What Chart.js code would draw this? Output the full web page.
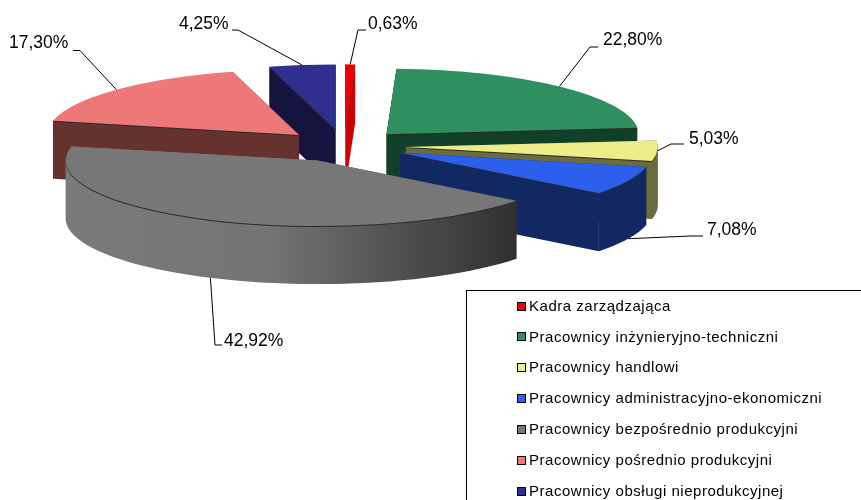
<!DOCTYPE html>
<html>
<head>
<meta charset="utf-8">
<style>
  html, body { margin: 0; padding: 0; background: #fff; }
  canvas { display: block; }
</style>
<script src="https://cdn.jsdelivr.net/npm/chart.js@4"></script>
</head>
<body>
<canvas id="chart" width="861" height="500"></canvas>
<script>
const categories = [
  "Kadra zarządzająca",
  "Pracownicy inżynieryjno-techniczni",
  "Pracownicy handlowi",
  "Pracownicy administracyjno-ekonomiczni",
  "Pracownicy bezpośrednio produkcyjni",
  "Pracownicy pośrednio produkcyjni",
  "Pracownicy obsługi nieprodukcyjnej"
];
const shares = [0.63, 22.80, 5.03, 7.08, 42.92, 17.30, 4.25];

const topColors = ["#ee0000", "#2f8f5f", "#ecec88", "#2b5fec", "#777777", "#ee7777", "#2f2f8f"];
const wallColors = ["#cc0000", "#123f28", "#6b6b3e", "#122863", null, "#663230", "#14143f"];
const grayWallStops = [[0, "#7a7a7a"], [0.45, "#747474"], [1, "#2f2f2f"]];

// back to front
const paintOrder = [0, 6, 1, 5, 2, 3, 4];

const center = { x: 344, y: 146 };
const radius = 252;
const squash = 0.26;
const explode = 62;
const depth = 58;

// label text position, then leader start and elbow, then whether it lands on the wall
const labelSpots = [
  { x: 368, y: 24, start: [366, 30], elbow: [358, 30], wall: false },
  { x: 603, y: 40, start: [598, 47], elbow: [590, 47], wall: false },
  { x: 689, y: 139, start: [684, 144], elbow: [671, 144], wall: false },
  { x: 707, y: 230, start: [703, 236], elbow: [690, 236], wall: true },
  { x: 224, y: 341, start: [222, 345], elbow: [215, 345], wall: true },
  { x: 9, y: 43, start: [73, 50.5], elbow: [80, 50.5], wall: false },
  { x: 179, y: 24, start: [232, 30], elbow: [238, 30], wall: false }
];

const legendBox = { x: 466.5, y: 290.5, w: 500, h: 300 };
const legendRows = { swatchX: 517.5, textX: 529, firstY: 305.5, step: 30.9, swatch: 8 };

const sliceOrigin = (arc) => {
  const mid = (arc.startAngle + arc.endAngle) / 2;
  return {
    x: center.x + Math.cos(mid) * explode,
    y: center.y + Math.sin(mid) * explode * squash,
    mid: mid
  };
};

const rimPoint = (o, angle) => ({
  x: o.x + Math.cos(angle) * radius,
  y: o.y + Math.sin(angle) * radius * squash
});

// the side walls of one slice: both cut faces and the front part of the rim
const drawWalls = (ctx, arc, fill) => {
  const o = sliceOrigin(arc);
  ctx.fillStyle = fill;
  [arc.startAngle, arc.endAngle].forEach((a) => {
    const p = rimPoint(o, a);
    ctx.beginPath();
    ctx.moveTo(o.x, o.y);
    ctx.lineTo(p.x, p.y);
    ctx.lineTo(p.x, p.y + depth);
    ctx.lineTo(o.x, o.y + depth);
    ctx.closePath();
    ctx.fill();
  });
  const from = Math.max(arc.startAngle, 0);
  const to = Math.min(arc.endAngle, Math.PI);
  if (to <= from) return;
  const steps = 48;
  ctx.beginPath();
  for (let s = 0; s <= steps; s++) {
    const p = rimPoint(o, from + (to - from) * s / steps);
    if (s === 0) ctx.moveTo(p.x, p.y);
    else ctx.lineTo(p.x, p.y);
  }
  for (let s = steps; s >= 0; s--) {
    const p = rimPoint(o, from + (to - from) * s / steps);
    ctx.lineTo(p.x, p.y + depth);
  }
  ctx.closePath();
  ctx.fill();
};

// top face: the library's own arc, squashed and moved out from the centre
const drawFace = (ctx, arc, color, dy) => {
  const o = sliceOrigin(arc);
  const saved = arc.options;
  ctx.save();
  ctx.translate(o.x, o.y + dy);
  ctx.scale(1, squash);
  ctx.translate(-arc.x, -arc.y);
  arc.options = Object.assign({}, saved, { backgroundColor: color });
  arc.draw(ctx);
  arc.options = saved;
  ctx.restore();
};

const pie3d = {
  id: "pie3d",
  beforeDatasetsDraw(chart) {
    const ctx = chart.ctx;
    const arcs = chart.getDatasetMeta(0).data;
    paintOrder.forEach((i) => {
      const arc = arcs[i];
      let wall = wallColors[i];
      if (!wall) {
        const o = sliceOrigin(arc);
        wall = ctx.createLinearGradient(o.x - radius, 0, o.x + radius * 0.8, 0);
        grayWallStops.forEach((s) => wall.addColorStop(s[0], s[1]));
      }
      drawWalls(ctx, arc, wall);
      drawFace(ctx, arc, "#2a2a2a", 1);
      drawFace(ctx, arc, topColors[i], 0);
    });
    return false;
  },
  afterDraw(chart) {
    const ctx = chart.ctx;
    const arcs = chart.getDatasetMeta(0).data;
    ctx.save();

    // leaders and value labels
    ctx.strokeStyle = "#000";
    ctx.lineWidth = 1;
    ctx.fillStyle = "#000";
    ctx.font = "17.5px 'Liberation Sans'";
    ctx.textBaseline = "middle";
    ctx.textAlign = "left";
    shares.forEach((v, i) => {
      const spot = labelSpots[i];
      const o = sliceOrigin(arcs[i]);
      const ax = o.x + Math.cos(o.mid) * radius;
      const ay = o.y + Math.sin(o.mid) * radius * squash + (spot.wall ? depth : 0);
      ctx.beginPath();
      ctx.moveTo(spot.start[0], spot.start[1]);
      ctx.lineTo(spot.elbow[0], spot.elbow[1]);
      ctx.lineTo(ax, ay);
      ctx.stroke();
      ctx.fillText(v.toFixed(2).replace(".", ",") + "%", spot.x, spot.y);
    });

    // legend
    ctx.strokeRect(legendBox.x, legendBox.y, legendBox.w, legendBox.h);
    ctx.font = "15px 'Liberation Sans'";
    ctx.letterSpacing = "0.52px";
    categories.forEach((name, i) => {
      const y = legendRows.firstY + i * legendRows.step;
      const top = Math.round(y - legendRows.swatch / 2) + 0.5;
      ctx.fillStyle = topColors[i];
      ctx.fillRect(legendRows.swatchX, top, legendRows.swatch, legendRows.swatch);
      ctx.strokeRect(legendRows.swatchX, top, legendRows.swatch, legendRows.swatch);
      ctx.fillStyle = "#000";
      ctx.fillText(name, legendRows.textX, y + 1);
    });
    ctx.restore();
  }
};

new Chart(document.getElementById("chart").getContext("2d"), {
  type: "pie",
  data: {
    labels: categories,
    datasets: [{
      data: shares,
      backgroundColor: topColors,
      borderWidth: 0,
      radius: radius
    }]
  },
  options: {
    responsive: false,
    animation: false,
    radius: radius,
    plugins: {
      legend: { display: false },
      tooltip: { enabled: false }
    }
  },
  plugins: [pie3d]
});
</script>
</body>
</html>
